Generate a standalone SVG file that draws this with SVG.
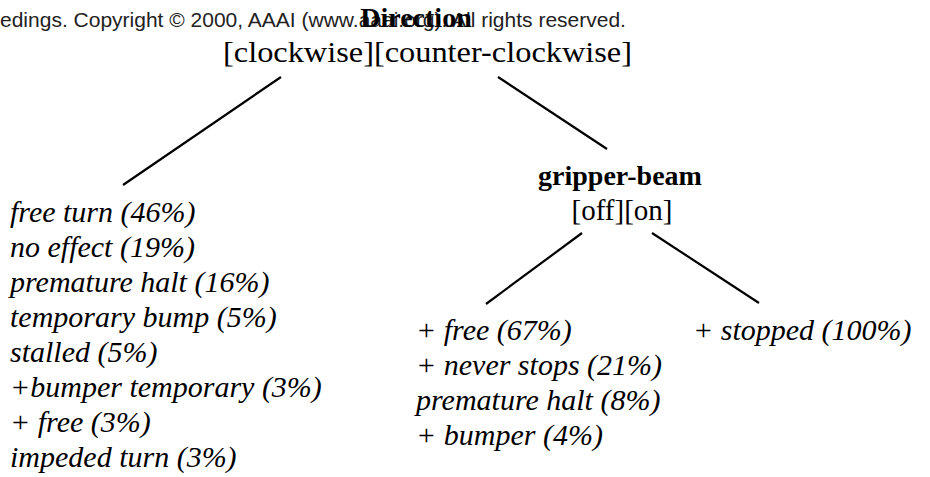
<svg xmlns="http://www.w3.org/2000/svg" width="930" height="477" viewBox="0 0 930 477">
<style>
.copy{font-family:"Liberation Sans",Arial,sans-serif;font-size:21px;fill:#222}
.head{font-family:"Liberation Serif","Times New Roman",serif;font-weight:bold;font-size:28px;fill:#000}
.vals{font-family:"Liberation Serif","Times New Roman",serif;font-size:29px;fill:#000}
.leaf{font-family:"Liberation Serif","Times New Roman",serif;font-style:italic;font-size:30px;fill:#000}
.edge{stroke:#000;stroke-width:2.2;fill:none}
</style>
<rect width="930" height="477" fill="#fff"/>
<text class="copy" x="0" y="27">edings. Copyright © 2000, AAAI (www.aaai.org). All rights reserved.</text>
<g id="direction">
<text class="head" x="416" y="27" text-anchor="middle">Direction</text>
<text class="vals" x="223" y="62" textLength="409" lengthAdjust="spacingAndGlyphs">[clockwise][counter-clockwise]</text>
</g>
<g id="gripper-beam">
<text class="head" x="620" y="185" text-anchor="middle">gripper-beam</text>
<text class="vals" x="622" y="220" text-anchor="middle">[off][on]</text>
</g>
<g id="clockwise-leaf">
<text class="leaf" x="10" y="222">free turn (46%)</text>
<text class="leaf" x="10" y="257">no effect (19%)</text>
<text class="leaf" x="10" y="292">premature halt (16%)</text>
<text class="leaf" x="10" y="327">temporary bump (5%)</text>
<text class="leaf" x="10" y="362">stalled (5%)</text>
<text class="leaf" x="10" y="397">+bumper temporary (3%)</text>
<text class="leaf" x="10" y="432">+ free (3%)</text>
<text class="leaf" x="10" y="467">impeded turn (3%)</text>
</g>
<g id="off-leaf">
<text class="leaf" x="416" y="340">+ free (67%)</text>
<text class="leaf" x="416" y="375">+ never stops (21%)</text>
<text class="leaf" x="416" y="410">premature halt (8%)</text>
<text class="leaf" x="416" y="445">+ bumper (4%)</text>
</g>
<g id="on-leaf">
<text class="leaf" x="693" y="340">+ stopped (100%)</text>
</g>
<g id="connectors">
<line class="edge" x1="281" y1="77" x2="123" y2="185"/>
<line class="edge" x1="498" y1="77" x2="607" y2="149"/>
<line class="edge" x1="582" y1="233" x2="486" y2="304"/>
<line class="edge" x1="652" y1="233" x2="759" y2="303"/>
</g>
</svg>
